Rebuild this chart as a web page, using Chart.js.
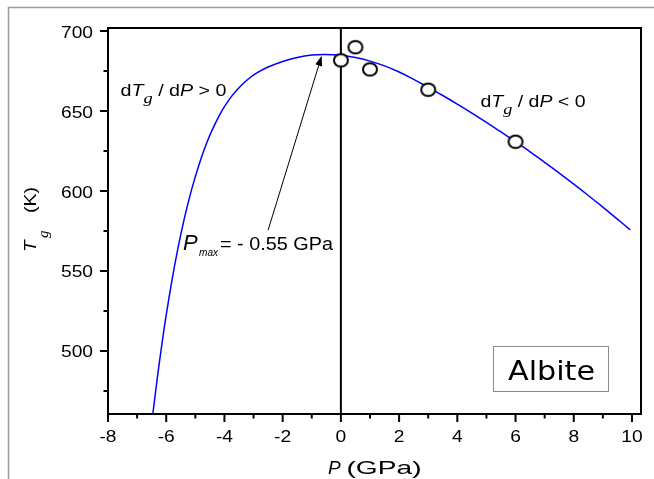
<!DOCTYPE html>
<html>
<head>
<meta charset="utf-8">
<script src="https://cdn.jsdelivr.net/npm/chart.js@4.4.1/dist/chart.umd.min.js"></script>
<style>
html, body { margin: 0; padding: 0; background: #fff; }
#wrap { width: 654px; height: 479px; position: relative; }
</style>
</head>
<body>
<div id="wrap"><canvas id="tgChart" width="654" height="479"></canvas></div>
<script>
// model curve
const curveP = [-6.46, -6.3, -6.15, -6.0, -5.8, -5.6, -5.4, -5.2, -5.0, -4.8, -4.6, -4.4, -4.2, -4.0, -3.75, -3.5, -3.2, -2.9, -2.5, -2.0, -1.5, -1.0, -0.55,
    0, 0.5, 1.0, 1.5, 2.0, 2.5, 3.0, 3.5, 4.0, 4.5, 5.0, 5.5, 6.0, 6.5, 7.0, 7.5, 8.0, 8.5, 9.0, 9.5, 9.94];
const curveT = [460.6, 484, 504, 522.5, 544.5, 564, 581, 596, 609, 620.5, 630.5, 639, 646.4, 652.7, 659.3, 664.6, 669.7, 673.7, 677.5, 681, 683.5, 685, 685.4,
    684.8, 683.4, 681.2, 678.2, 674.4, 669.8, 664.8, 659.7, 654.3, 648.7, 642.9, 636.9, 630.8, 624.5, 617.9, 611.2, 604.3, 597.2, 589.9, 582.4, 575.7];

// measured points
const expP = [0, 0.5, 1, 3, 6];
const expT = [681.7, 689.9, 676, 663.3, 630.8];

const xTicks = [-8, -6, -4, -2, 0, 2, 4, 6, 8, 10];
const xMinor = [-7, -5, -3, -1, 1, 3, 5, 7, 9];
const yTicks = [500, 550, 600, 650, 700];
const yMinor = [475, 525, 575, 625, 675];

const SANS = '"Liberation Sans", Arial, sans-serif';
const SERIF = '"Liberation Serif", "Times New Roman", serif';

// draws a list of [text, font, dy] runs, optionally squeezed/stretched to a width
function drawRuns(ctx, runs, x, y, opts = {}) {
    ctx.save();
    let w = 0;
    runs.forEach(r => { ctx.font = r[1]; w += ctx.measureText(r[0]).width; });
    const s = opts.width ? opts.width / w : (opts.stretch || 1);
    ctx.translate(x, y);
    if (opts.rotate) ctx.rotate(opts.rotate);
    ctx.scale(s, 1);
    let cx = opts.align === 'right' ? -w : opts.align === 'center' ? -w / 2 : 0;
    ctx.textAlign = 'left';
    ctx.textBaseline = 'alphabetic';
    ctx.fillStyle = '#000';
    runs.forEach(r => {
        ctx.font = r[1];
        ctx.fillText(r[0], cx, r[2] || 0);
        cx += ctx.measureText(r[0]).width;
    });
    ctx.restore();
}

function ellipseMarker() {
    const c = document.createElement('canvas');
    c.width = 18; c.height = 16;
    const g = c.getContext('2d');
    g.beginPath();
    g.ellipse(9, 8, 7, 6.2, 0, 0, Math.PI * 2);
    g.fillStyle = '#fff';
    g.fill();
    g.lineWidth = 2;
    g.strokeStyle = '#000';
    g.stroke();
    return c;
}

const decor = {
    id: 'decor',
    beforeDraw(chart) {
        const ctx = chart.ctx;
        ctx.save();
        ctx.fillStyle = '#fff';
        ctx.fillRect(0, 0, chart.width, chart.height);
        ctx.strokeStyle = '#9a9a9a';
        ctx.lineWidth = 1.5;
        ctx.beginPath();
        ctx.moveTo(8.5, chart.height);
        ctx.lineTo(8.5, 7.5);
        ctx.lineTo(chart.width, 7.5);
        ctx.stroke();
        ctx.restore();
    },
    beforeDatasetsDraw(chart) {
        const { ctx, chartArea: a, scales: { x } } = chart;
        const px = x.getPixelForValue(0);
        ctx.save();
        ctx.strokeStyle = '#000';
        ctx.lineWidth = 2;
        ctx.beginPath();
        ctx.moveTo(px, a.top);
        ctx.lineTo(px, a.bottom);
        ctx.stroke();
        ctx.restore();
    },
    afterDraw(chart) {
        const { ctx, chartArea: a, scales: { x, y } } = chart;
        ctx.save();
        ctx.strokeStyle = '#000';
        ctx.lineWidth = 2;
        ctx.strokeRect(a.left, a.top, a.right - a.left, a.bottom - a.top);

        // ticks
        ctx.beginPath();
        xTicks.forEach(v => { const p = x.getPixelForValue(v); ctx.moveTo(p, a.bottom); ctx.lineTo(p, a.bottom + 8); });
        xMinor.forEach(v => { const p = x.getPixelForValue(v); ctx.moveTo(p, a.bottom); ctx.lineTo(p, a.bottom + 4.5); });
        yTicks.forEach(v => { const p = y.getPixelForValue(v); ctx.moveTo(a.left, p); ctx.lineTo(a.left - 8, p); });
        yMinor.forEach(v => { const p = y.getPixelForValue(v); ctx.moveTo(a.left, p); ctx.lineTo(a.left - 4.5, p); });
        ctx.stroke();
        ctx.restore();

        const f16 = '16px ' + SANS;
        xTicks.forEach(v => drawRuns(ctx, [[String(v), f16, 0]], x.getPixelForValue(v), a.bottom + 28, { align: 'center', stretch: 1.2 }));
        yTicks.forEach(v => drawRuns(ctx, [[String(v), f16, 0]], a.left - 15, y.getPixelForValue(v) + 6.5, { align: 'right', stretch: 1.2 }));

        // axis titles
        drawRuns(ctx, [['P', 'italic 19px ' + SANS, 0]], 328, 473.5);
        drawRuns(ctx, [['(GPa)', '19px ' + SANS, 0]], 346.5, 473.5, { width: 75 });
        drawRuns(ctx, [['T', 'italic 16px ' + SANS, 0]], 36, 252, { rotate: -Math.PI / 2, stretch: 1.2 });
        drawRuns(ctx, [['g', 'italic 15px ' + SERIF, 0]], 48, 238, { rotate: -Math.PI / 2 });
        drawRuns(ctx, [['(K)', '16px ' + SANS, 0]], 36, 213, { rotate: -Math.PI / 2, width: 26 });

        // slope annotations
        drawRuns(ctx, [
            ['d', f16, 0], ['T', 'italic 16px ' + SANS, 0], ['g', 'italic 15px ' + SERIF, 7],
            [' / d', f16, 0], ['P', 'italic 16px ' + SANS, 0], [' > 0', f16, 0]
        ], 120.5, 96, { width: 106 });
        drawRuns(ctx, [
            ['d', f16, 0], ['T', 'italic 16px ' + SANS, 0], ['g', 'italic 15px ' + SERIF, 7],
            [' / d', f16, 0], ['P', 'italic 16px ' + SANS, 0], [' < 0', f16, 0]
        ], 480.5, 106.5, { width: 105 });

        // P_max label and arrow
        drawRuns(ctx, [['P', 'italic 22px ' + SANS, 0]], 183, 249.5);
        drawRuns(ctx, [['max', 'italic 11px ' + SANS, 0]], 199, 255.5, { width: 19 });
        drawRuns(ctx, [['= - 0.55 GPa', '17.5px ' + SANS, 0]], 220, 249.5, { width: 113 });

        const x0 = x.getPixelForValue(-2.5), y0 = y.getPixelForValue(575.5);
        const x1 = x.getPixelForValue(-0.66), y1 = y.getPixelForValue(684.5);
        const ang = Math.atan2(y1 - y0, x1 - x0);
        ctx.save();
        ctx.strokeStyle = '#000';
        ctx.fillStyle = '#000';
        ctx.lineWidth = 1;
        ctx.beginPath();
        ctx.moveTo(x0, y0);
        ctx.lineTo(x1 - 6 * Math.cos(ang), y1 - 6 * Math.sin(ang));
        ctx.stroke();
        ctx.beginPath();
        ctx.moveTo(x1, y1);
        ctx.lineTo(x1 - 10 * Math.cos(ang) + 3.5 * Math.sin(ang), y1 - 10 * Math.sin(ang) - 3.5 * Math.cos(ang));
        ctx.lineTo(x1 - 10 * Math.cos(ang) - 3.5 * Math.sin(ang), y1 - 10 * Math.sin(ang) + 3.5 * Math.cos(ang));
        ctx.closePath();
        ctx.fill();

        // sample box
        ctx.strokeStyle = '#8a8a8a';
        ctx.lineWidth = 1;
        ctx.strokeRect(493.5, 346.5, 115, 45);
        ctx.restore();
        drawRuns(ctx, [['Albite', '26px "Comic Sans MS", "DejaVu Sans", sans-serif', 0]], 508, 379.5, { width: 87 });
    }
};

const ctx = document.getElementById('tgChart').getContext('2d');
new Chart(ctx, {
    type: 'scatter',
    data: {
        datasets: [{
            label: 'measured',
            data: expP.map((p, i) => ({ x: p, y: expT[i] })),
            pointStyle: ellipseMarker(),
            pointRadius: 7,
            showLine: false
        }, {
            label: 'model',
            data: curveP.map((p, i) => ({ x: p, y: curveT[i] })),
            showLine: true,
            pointRadius: 0,
            borderColor: '#0000ff',
            borderWidth: 1.5,
            tension: 0.4
        }]
    },
    options: {
        responsive: false,
        animation: false,
        layout: { padding: { top: 28, right: 13, left: 0, bottom: 0 } },
        plugins: {
            legend: { display: false },
            tooltip: { enabled: false }
        },
        scales: {
            x: {
                type: 'linear',
                min: -8,
                max: 10.31,
                grid: { display: false },
                border: { display: false },
                ticks: { display: false },
                afterFit: s => { s.height = 65; }
            },
            y: {
                type: 'linear',
                min: 460.6,
                max: 701.9,
                grid: { display: false },
                border: { display: false },
                ticks: { display: false },
                afterFit: s => { s.width = 108; }
            }
        }
    },
    plugins: [decor]
});
</script>
</body>
</html>
